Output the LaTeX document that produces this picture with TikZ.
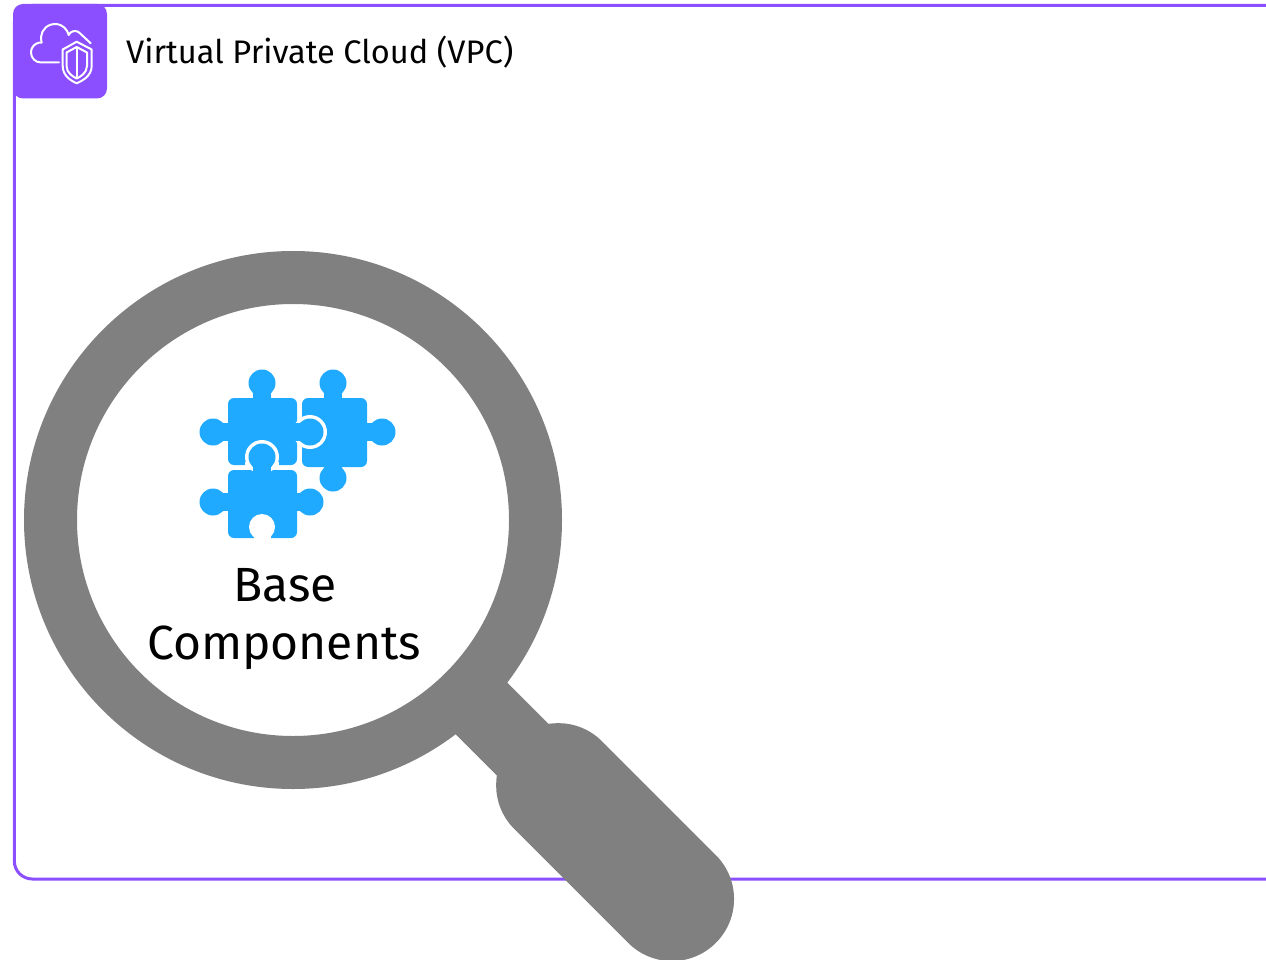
\documentclass[tikz,border=0pt]{standalone}
\usepackage{fontspec}
\setmainfont{Fira Sans}
\definecolor{vpcpurple}{HTML}{8C4FFF}
\definecolor{lensgray}{HTML}{808080}
\definecolor{puzzleblue}{HTML}{1FAAFF}
\begin{document}
\begin{tikzpicture}[x=1pt,y=-1pt,
  iconline/.style={draw=white,line width=2pt,line join=round,line cap=round},
  piece/.style={fill=puzzleblue},
  gap/.style={fill=white},
  title/.style={font=\fontsize{32.6}{38}\selectfont,anchor=base west,inner sep=0pt},
  biglabel/.style={font=\fontsize{48}{58}\selectfont,anchor=base,inner sep=0pt}]
\useasboundingbox (0,0) rectangle (1266,960);
\clip (0,0) rectangle (1266,960);

% VPC group frame (open to the right)
\draw[vpcpurple,line width=3pt,rounded corners=18pt]
  (1290,5.5) -- (14.3,5.5) -- (14.3,879) -- (1290,879);

% group icon
\fill[vpcpurple,rounded corners=10pt] (13,4) rectangle (107,98.5);
% cloud
\draw[iconline] (59,62.5) -- (41,62.5) arc[start angle=90,end angle=274.3,radius=10]
  arc[start angle=161.1,end angle=347.6,radius=14]
  arc[start angle=205.4,end angle=325,radius=7] -- (90.7,43.3);
% shield
\draw[iconline] (76.7,41.7) -- (91.7,49.5) -- (91.7,66)
  .. controls (91.7,76) and (82,81) .. (76.7,83.3)
  .. controls (71.4,81) and (62.7,76) .. (62.7,66) -- (62.7,49.5) -- cycle;
\draw[iconline] (76.7,47) -- (87,52.5) -- (87,66)
  .. controls (87,73) and (80,77) .. (76.7,78.5)
  .. controls (73.4,77) and (66.5,73) .. (66.5,66) -- (66.5,52.5) -- cycle;
\draw[iconline] (76.7,48) -- (76.7,78);

\node[title] (vpctitle) at (126,64) {Virtual Private Cloud (VPC)};

% magnifying glass: lens ring
\draw[lensgray,line width=53pt] (293,520) circle[radius=242.5];
% neck and grip along the 45 degree axis
\begin{scope}[shift={(293,520)},rotate=-45]
  \fill[lensgray] (230,-36.5) rectangle (340,36.5);
  \fill[lensgray,rounded corners=61.9pt] (313,-62) rectangle (598,62);
\end{scope}

% puzzle piece B (right)
\fill[piece,rounded corners=6pt] (302,398) rectangle (367,467);
\fill[piece] (333,383) circle[radius=13.5];
\fill[piece] (324,383) rectangle (342,400);
\fill[piece] (382,432) circle[radius=13.5];
\fill[piece] (365,423) rectangle (382,441);
\fill[piece] (333,478) circle[radius=13.5];
\fill[piece] (324,465) rectangle (342,478);

% puzzle piece A (top left)
\fill[piece,rounded corners=6pt] (228,398) rectangle (297,465);
\fill[piece] (262,383) circle[radius=13.5];
\fill[piece] (253,383) rectangle (271,400);
\fill[piece] (213,432) circle[radius=13.5];
\fill[piece] (213,423) rectangle (230,441);
% A's tab locking into B
\fill[gap] (310,432) circle[radius=17];
\fill[piece] (310,432) circle[radius=13.5];
\fill[piece] (292,423) rectangle (305,441);

% puzzle piece C (bottom left)
\fill[piece,rounded corners=6pt] (228,470) rectangle (297,538);
\fill[piece] (213,502) circle[radius=13.5];
\fill[piece] (213,493) rectangle (230,511);
\fill[piece] (310,502) circle[radius=13.5];
\fill[piece] (295,493) rectangle (310,511);
% C's tab locking into A
\fill[gap] (262,457) circle[radius=17];
\fill[gap] (245,462) rectangle (279,470);
\fill[piece] (262,457) circle[radius=13.5];
\fill[piece] (253,457) rectangle (271,474);
% slot in C's bottom edge
\fill[gap] (262,527) circle[radius=13];
\fill[gap] (253.5,527) rectangle (270.5,540);

\node[biglabel] (lblbase) at (285,601.5) {Base};
\node[biglabel] (lblcomp) at (284,659) {Components};
\end{tikzpicture}
\end{document}
